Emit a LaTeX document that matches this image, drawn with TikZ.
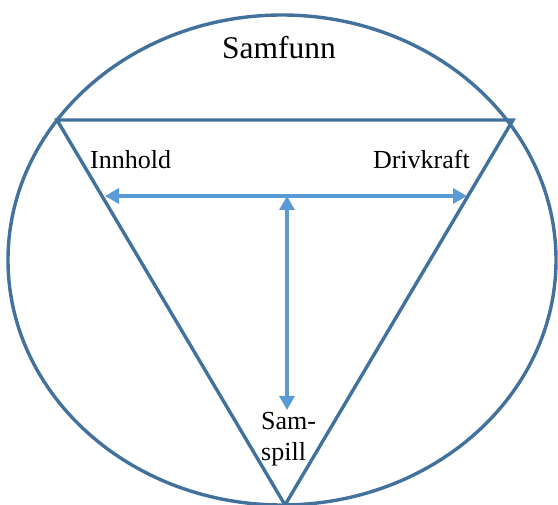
\documentclass[tikz,border=0pt]{standalone}
\usepackage{fontspec}
\setmainfont{Liberation Serif}
\usepackage{tikz}
\usetikzlibrary{positioning,arrows.meta}
\usepackage{xcolor}
\definecolor{ringblue}{RGB}{65,113,156}
\definecolor{arrowblue}{RGB}{91,155,213}

\begin{document}
\begin{tikzpicture}[
    x=1pt, y=-1pt,
    frame/.style={draw=ringblue, line width=3.4pt},
    link/.style={draw=arrowblue, line width=3.2pt,
        {Triangle[length=14pt,width=15pt]}-{Triangle[length=14pt,width=15pt]}},
    every node/.style={inner sep=0pt, font=\fontsize{26}{31}\selectfont}
]
    \useasboundingbox (0,0) rectangle (558,505);

    % Define coordinates
    % Corners of the triangle
    \coordinate (tl) at (57,120);
    \coordinate (tr) at (513,120);
    \coordinate (bt) at (285,505);

    % Arrow ends
    \coordinate (ar) at (105,196);
    \coordinate (dr) at (467,196);
    \coordinate (mid) at (287,196);
    \coordinate (sp) at (287,410);

    % Labels
    \node (samfunn) at (279,59) [anchor=base, font=\fontsize{31.5}{36}\selectfont] {Samfunn};
    \node (innhold) at (90,169) [anchor=base west] {Innhold};
    \node (drivkraft) at (470,169) [anchor=base east] {Drivkraft};
    \node (samspill) at (261,461) [anchor=base west, align=left] {Sam-\\spill};

    % Society ring
    \draw[frame] (282,260) ellipse [x radius=274, y radius=245];

    % Triangle
    \draw[frame, line join=miter] (tl) -- (tr) -- (bt) -- cycle;

    % Arrows
    \draw[link] (ar) -- (dr);
    \draw[link] (mid) -- (sp);
\end{tikzpicture}
\end{document}
